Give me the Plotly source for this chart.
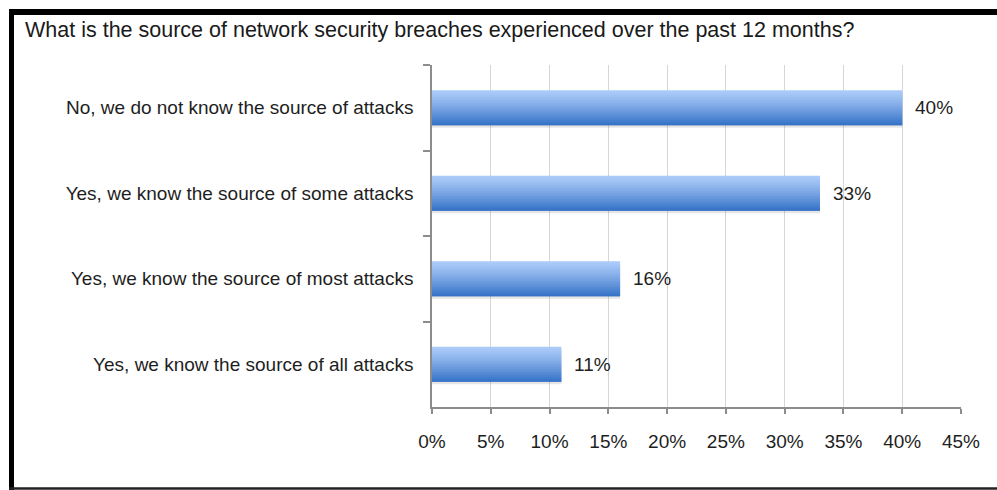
import plotly.graph_objects as go

title_text = "What is the source of network security breaches experienced over the past 12 months?"
categories = [
    "No, we do not know the source of attacks",
    "Yes, we know the source of some attacks",
    "Yes, we know the source of most attacks",
    "Yes, we know the source of all attacks",
]
values = [40, 33, 16, 11]
value_labels = ["40%", "33%", "16%", "11%"]
x_ticks = [0, 5, 10, 15, 20, 25, 30, 35, 40, 45]
x_tick_labels = ["0%", "5%", "10%", "15%", "20%", "25%", "30%", "35%", "40%", "45%"]

W, H = 997, 490
L, R, T, B = 432, 36, 65, 83
FONT = "Liberation Sans, Arial, sans-serif"

bar_w = 0.41
N = 14
top_rgb = (170, 202, 248)
bot_rgb = (56, 116, 200)

fig = go.Figure()

# soft shadow
fig.add_trace(go.Bar(
    y=categories, x=values, orientation="h", width=bar_w, offset=-bar_w / 2 + 0.03,
    marker=dict(color="rgba(0,0,0,0.10)", line=dict(width=0)), hoverinfo="skip", showlegend=False,
))

step = bar_w / N
for i in range(N):
    t = (i / (N - 1)) ** 1.2
    c = tuple(round(top_rgb[k] + (bot_rgb[k] - top_rgb[k]) * t) for k in range(3))
    w = step * 2 if i < N - 1 else step
    fig.add_trace(go.Bar(
        y=categories, x=values, orientation="h",
        width=w, offset=-bar_w / 2 + i * step,
        marker=dict(color="rgb(%d,%d,%d)" % c, line=dict(width=0)),
        hoverinfo="skip", showlegend=False,
    ))

annotations = []
for cat, v, lab in zip(categories, values, value_labels):
    annotations.append(dict(
        x=v, y=cat, xref="x", yref="y", text=lab, showarrow=False,
        xanchor="left", xshift=11, font=dict(family=FONT, size=19, color="#1e1e1e"),
    ))

pw = W - L - R
ph = H - T - B
def px_x(p):
    return (p - L) / pw
def px_y(p):
    return (H - B - p) / ph

annotations.append(dict(
    x=px_x(23), y=px_y(30), xref="paper", yref="paper",
    text=title_text, showarrow=False, xanchor="left", yanchor="middle",
    font=dict(family=FONT, size=21.5, color="#1a1a1a"),
))

shapes = [
    dict(type="line", xref="paper", yref="paper", x0=px_x(11.5), x1=px_x(11.5), y0=px_y(9), y1=px_y(490),
         line=dict(color="black", width=5)),
    dict(type="line", xref="paper", yref="paper", x0=px_x(9), x1=px_x(997), y0=px_y(12), y1=px_y(12),
         line=dict(color="black", width=6)),
    dict(type="line", xref="paper", yref="paper", x0=px_x(9), x1=px_x(997), y0=px_y(488.5), y1=px_y(488.5),
         line=dict(color="#222222", width=2.5)),
]

fig.update_layout(
    width=W, height=H, margin=dict(l=L, r=R, t=T, b=B, pad=0),
    barmode="overlay", paper_bgcolor="white", plot_bgcolor="white",
    font=dict(family=FONT, size=19, color="#1e1e1e"),
    annotations=annotations, shapes=shapes, showlegend=False,
    xaxis=dict(
        range=[0, 45], tickvals=x_ticks, ticktext=x_tick_labels,
        showgrid=True, gridcolor="#d6d6d6", gridwidth=1,
        showline=True, linecolor="#8c8c8c", linewidth=1.5,
        ticks="outside", ticklen=5, tickcolor="#8c8c8c", tickwidth=1.5,
        ticklabelstandoff=11,
        tickfont=dict(family=FONT, size=19, color="#1e1e1e"), zeroline=False,
        fixedrange=True,
    ),
    yaxis=dict(
        type="category", categoryorder="array", categoryarray=categories, autorange="reversed",
        showline=True, linecolor="#8c8c8c", linewidth=1.5,
        ticks="outside", ticklen=7, tickcolor="#8c8c8c", tickwidth=1.5, tickson="boundaries",
        showgrid=False, ticklabelstandoff=13,
        tickfont=dict(family=FONT, size=19, color="#1e1e1e"),
        fixedrange=True,
    ),
)

fig.write_html("out.html", config={"displayModeBar": False},
               post_script="document.body.style.margin='0px';document.body.style.padding='0px';")
